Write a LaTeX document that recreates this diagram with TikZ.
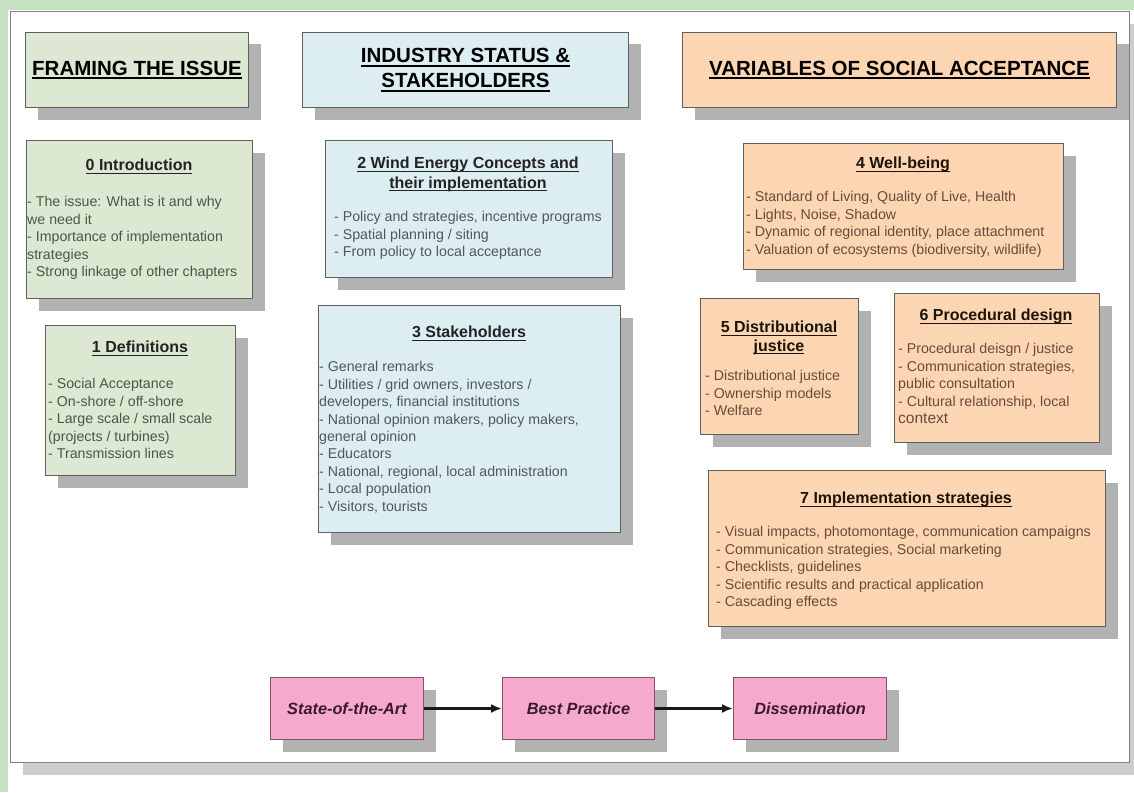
\documentclass[tikz,border=0pt]{standalone}
\usepackage{fontspec}
\setmainfont{Liberation Sans}
\usetikzlibrary{shadows,arrows.meta}
\definecolor{bggreen}{RGB}{199,224,196}
\definecolor{gfill}{RGB}{221,232,210}
\definecolor{bfill}{RGB}{221,238,243}
\definecolor{ofill}{RGB}{252,214,178}
\definecolor{pfill}{RGB}{245,170,205}
\definecolor{shadowgray}{RGB}{178,178,178}
\definecolor{panelshadow}{RGB}{205,205,205}
\definecolor{boxborder}{RGB}{95,95,95}
\definecolor{pborder}{RGB}{135,80,105}
\definecolor{gtext}{RGB}{72,88,70}
\definecolor{btext}{RGB}{78,88,95}
\definecolor{otext}{RGB}{105,75,58}
\definecolor{ttext}{RGB}{35,35,35}
\definecolor{ptext}{RGB}{60,25,45}
\newsavebox\ulbox
\newcommand\myul[3]{\sbox\ulbox{#3}\rlap{\rule[-#2]{\wd\ulbox}{#1}}\usebox\ulbox}
\newcommand\uh[1]{\myul{2pt}{4pt}{#1}}
\newcommand\ut[1]{\myul{1.3pt}{3.3pt}{#1}}
\tikzset{
  box/.style={draw=boxborder, line width=1pt, inner sep=0pt, anchor=north west,
    drop shadow={shadow xshift=12pt, shadow yshift=-12pt, fill=shadowgray, opacity=1}},
  gbox/.style={box, fill=gfill},
  bbox/.style={box, fill=bfill},
  obox/.style={box, fill=ofill},
  pbox/.style={box, fill=pfill, draw=pborder, text=ptext,
    font=\fontsize{16.3}{20}\selectfont\bfseries\itshape},
  hdr/.style={font=\fontsize{20.5}{25}\selectfont\bfseries, align=center, text=black},
  ttl/.style={font=\fontsize{16}{19.5}\selectfont\bfseries, align=center, inner sep=0pt, anchor=north, text=ttext},
  body/.style={font=\fontsize{14.2}{17.4}\selectfont, align=left, inner sep=0pt, anchor=north west},
  arr/.style={line width=2.4pt, draw=black!90, -{Latex[length=11pt,width=9pt]}}
}
\begin{document}
\begin{tikzpicture}[x=1pt,y=-1pt]
\useasboundingbox (0,0) rectangle (1134,792);
\clip (0,0) rectangle (1134,792);
\fill[bggreen] (0,0) rectangle (1134,792);
\fill[white] (8,10) rectangle (1134,792);
\node[draw=black!50, line width=1.2pt, fill=white, inner sep=0pt, anchor=north west,
  minimum width=1119, minimum height=751,
  drop shadow={shadow xshift=12pt, shadow yshift=-12pt, fill=panelshadow, opacity=1}] (panel) at (10,11) {};

% headers
\node[gbox, hdr, minimum width=223, minimum height=75] (hframe) at (25,32) {\uh{FRAMING THE ISSUE}};
\node[bbox, hdr, minimum width=326, minimum height=75] (hind) at (302,32) {\uh{INDUSTRY STATUS \&}\\\uh{STAKEHOLDERS}};
\node[obox, hdr, minimum width=434, minimum height=75] (hvar) at (682,32) {\uh{VARIABLES OF SOCIAL ACCEPTANCE}};

% content boxes
\node[gbox, minimum width=226, minimum height=158] (intro) at (26,140) {};
\node[gbox, minimum width=190, minimum height=150] (defs) at (45,325) {};
\node[bbox, minimum width=287, minimum height=137] (wind) at (325,140) {};
\node[bbox, minimum width=302, minimum height=227] (stake) at (318,305) {};
\node[obox, minimum width=320, minimum height=126] (well) at (743,143) {};
\node[obox, minimum width=158, minimum height=136] (dist) at (700,298) {};
\node[obox, minimum width=205, minimum height=149] (proc) at (894,293) {};
\node[obox, minimum width=397, minimum height=156] (impl) at (708,470) {};

% titles
\node[ttl] (introT) at (139,158.9) {\ut{0 Introduction}};
\node[ttl] (defsT) at (140,340.9) {\ut{1 Definitions}};
\node[ttl] (windT) at (468,156.9) {\ut{2 Wind Energy Concepts and}\\\ut{their implementation}};
\node[ttl] (stakeT) at (469,325.9) {\ut{3 Stakeholders}};
\node[ttl, text=black!85!brown] (wellT) at (903,156.9) {\ut{4 Well-being}};
\node[ttl, font=\fontsize{16}{18.5}\selectfont\bfseries, text=black!85!brown] (distT) at (779,320.9) {\ut{5 Distributional}\\\ut{justice}};
\node[ttl, text=black!85!brown] (procT) at (996,308.9) {\ut{6 Procedural design}};
\node[ttl, text=black!85!brown] (implT) at (906,491.9) {\ut{7 Implementation strategies}};

% bodies
\node[body, text=gtext] (introB) at (27,196.4) {- The issue: What is it and why\\we need it\\- Importance of implementation\\strategies\\- Strong linkage of other chapters};
\node[body, text=gtext] (defsB) at (48,378.4) {- Social Acceptance\\- On-shore / off-shore\\- Large scale / small scale\\(projects / turbines)\\- Transmission lines};
\node[body, text=btext] (windB) at (334,211.4) {- Policy and strategies, incentive programs\\- Spatial planning / siting\\- From policy to local acceptance};
\node[body, text=btext] (stakeB) at (319,361.4) {- General remarks\\- Utilities / grid owners, investors /\\developers, financial institutions\\- National opinion makers, policy makers,\\general opinion\\- Educators\\- National, regional, local administration\\- Local population\\- Visitors, tourists};
\node[body, text=otext] (wellB) at (746,191.4) {- Standard of Living, Quality of Live, Health\\- Lights, Noise, Shadow\\- Dynamic of regional identity, place attachment\\- Valuation of ecosystems (biodiversity, wildlife)};
\node[body, text=otext] (distB) at (705,370.4) {- Distributional justice\\- Ownership models\\- Welfare};
\node[body, text=otext] (procB) at (898,343.4) {- Procedural deisgn / justice\\- Communication strategies,\\public consultation\\- Cultural relationship, local\\{\fontsize{15.5}{17.4}\selectfont context}};
\node[body, text=otext] (implB) at (716,526.4) {- Visual impacts, photomontage, communication campaigns\\- Communication strategies, Social marketing\\- Checklists, guidelines\\- Scientific results and practical application\\- Cascading effects};

% process
\node[pbox, minimum width=153, minimum height=62] (soa) at (270,677) {State-of-the-Art};
\node[pbox, minimum width=152, minimum height=62] (bp) at (502,677) {Best Practice};
\node[pbox, minimum width=153, minimum height=62] (dis) at (733,677) {Dissemination};
\draw[arr] (soa.east) -- (bp.west);
\draw[arr] (bp.east) -- (dis.west);
\end{tikzpicture}
\end{document}
